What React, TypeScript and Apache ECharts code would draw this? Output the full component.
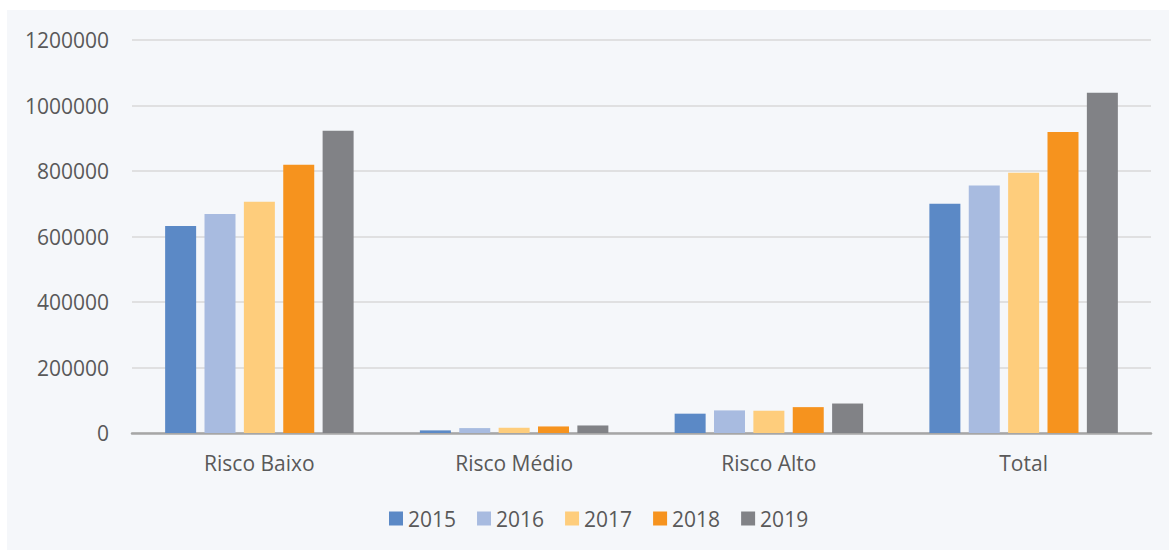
import React, { useEffect, useRef } from "react";
import * as echarts from "echarts";

const categories = ["Risco Baixo", "Risco Médio", "Risco Alto", "Total"];
const years = ["2015", "2016", "2017", "2018", "2019"];
const values2015 = [632000, 8000, 59000, 700000];
const values2016 = [669000, 15000, 69000, 756000];
const values2017 = [706000, 16000, 68000, 795000];
const values2018 = [819000, 20000, 79000, 919000];
const values2019 = [923000, 23000, 90000, 1039000];
const seriesValues = [values2015, values2016, values2017, values2018, values2019];
const colors = ["#5B89C6", "#A8BBE0", "#FECD7C", "#F6931E", "#818286"];

export default function App() {
  const ref = useRef<HTMLDivElement>(null);
  useEffect(() => {
    document.body.style.margin = "0";
    const chart = echarts.init(ref.current!, undefined, { renderer: "svg" });
    const textColor = "#595959";
    const font = "'Open Sans', 'Noto Sans', sans-serif";
    chart.setOption({
      animation: false,
      textStyle: { fontFamily: font },
      graphic: [
        {
          type: "rect",
          z: -10,
          shape: { x: 7, y: 10, width: 1162, height: 540 },
          style: { fill: "#F5F7FA" },
          silent: true,
        },
      ],
      grid: { left: 132, right: 18, top: 40, bottom: 117 },
      legend: {
        left: 384,
        top: 503,
        itemWidth: 14,
        itemHeight: 14,
        itemGap: 21,
        icon: "rect",
        textStyle: { color: textColor, fontSize: 21, fontFamily: font },
        data: years,
      },
      xAxis: {
        type: "category",
        data: categories,
        axisLine: { lineStyle: { color: "#A6A6A6", width: 2.5 } },
        axisTick: { show: false },
        axisLabel: { color: textColor, fontSize: 21, margin: 19, fontFamily: font },
      },
      yAxis: {
        type: "value",
        min: 0,
        max: 1200000,
        interval: 200000,
        axisLine: { show: false },
        axisTick: { show: false },
        axisLabel: {
          color: textColor,
          fontSize: 21,
          margin: 23,
          fontFamily: font,
          formatter: (v: number) => String(v),
        },
        splitLine: { lineStyle: { color: "#D9D9D9", width: 1.5 } },
      },
      series: years.map((y, i) => ({
        name: y,
        type: "bar",
        data: seriesValues[i],
        barWidth: 31,
        barGap: "27%",
        itemStyle: { color: colors[i] },
      })),
    });
    return () => chart.dispose();
  }, []);
  return <div ref={ref} style={{ width: 1169, height: 550, background: "#fff" }} />;
}
